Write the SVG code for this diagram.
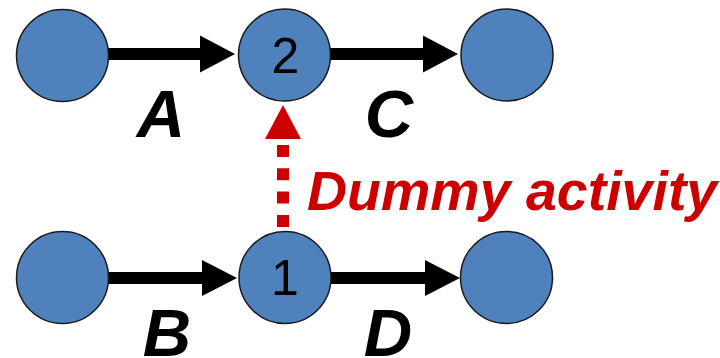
<svg xmlns="http://www.w3.org/2000/svg" width="720" height="358" viewBox="0 0 720 358">
  <style>
    .ev { fill: #4f81bd; stroke: #1a1a1a; stroke-width: 1.5; }
    .num { font-family: "Liberation Sans", Arial, sans-serif; font-size: 50px; fill: #000; text-anchor: middle; }
    .act { font-family: "Liberation Sans", Arial, sans-serif; font-size: 67px; font-weight: bold; font-style: italic; fill: #000; text-anchor: middle; }
    .edge { stroke: #000; stroke-width: 12; fill: none; }
    .dummy { stroke: #cc0000; stroke-width: 12; stroke-dasharray: 12 11.3; fill: none; }
    .dlabel { font-family: "Liberation Sans", Arial, sans-serif; font-size: 55.5px; font-weight: bold; font-style: italic; fill: #cc0000; }
  </style>
  <rect width="720" height="358" fill="#fff"/>

  <g id="connectors">
    <!-- A -->
    <line class="edge" x1="108" y1="54" x2="202" y2="54"/>
    <polygon points="200,35.5 235,54 200,72.5" fill="#000"/>
    <!-- C -->
    <line class="edge" x1="330" y1="54" x2="425" y2="54"/>
    <polygon points="423,35.5 458,54 423,72.5" fill="#000"/>
    <!-- B -->
    <line class="edge" x1="108" y1="278" x2="204" y2="278"/>
    <polygon points="202,260 237,278 202,296" fill="#000"/>
    <!-- D -->
    <line class="edge" x1="330" y1="278" x2="427" y2="278"/>
    <polygon points="425,260 460,278 425,296" fill="#000"/>
    <!-- dummy activity 1 -> 2 -->
    <line class="dummy" x1="283" y1="145" x2="283" y2="234"/>
    <polygon points="265,139 283,105 301,139" fill="#cc0000"/>
  </g>

  <g id="labels">
    <text class="act" x="161" y="137">A</text>
    <text class="act" x="389" y="137">C</text>
    <text class="act" x="167" y="356">B</text>
    <text class="act" x="388" y="356">D</text>
    <text class="dlabel" x="307" y="210">Dummy activity</text>
  </g>

  <g id="n-top-left"><circle class="ev" cx="62.5" cy="55.5" r="46"/></g>
  <g id="n-2"><circle class="ev" cx="284.5" cy="55" r="46"/><text class="num" x="285.5" y="73">2</text></g>
  <g id="n-top-right"><circle class="ev" cx="507" cy="55" r="46"/></g>
  <g id="n-bottom-left"><circle class="ev" cx="62.5" cy="277.5" r="46"/></g>
  <g id="n-1"><circle class="ev" cx="285" cy="277.5" r="46"/><text class="num" x="285" y="295">1</text></g>
  <g id="n-bottom-right"><circle class="ev" cx="506.5" cy="277.5" r="46"/></g>
</svg>
